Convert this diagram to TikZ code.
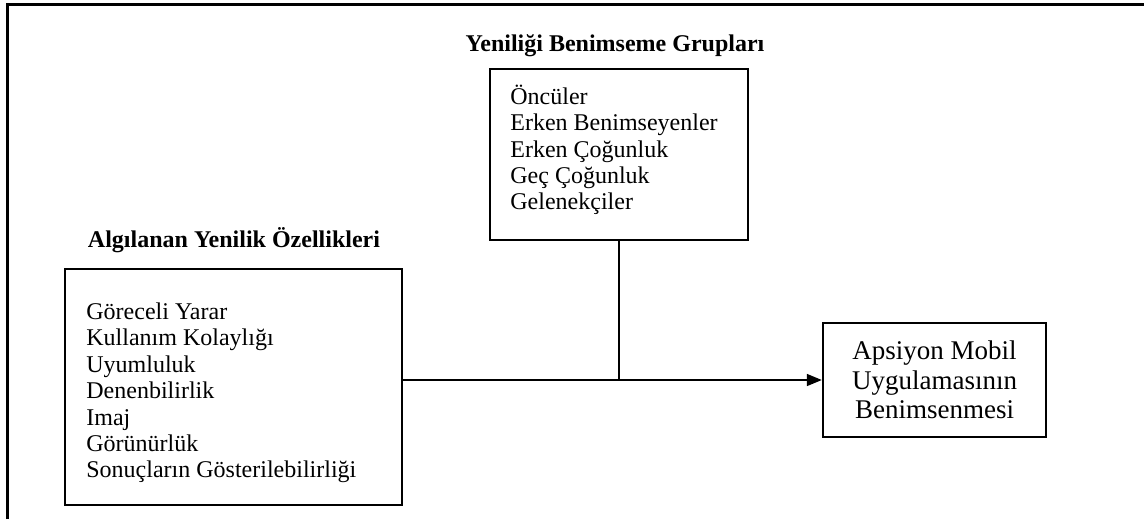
\documentclass[tikz,border=0pt]{standalone}
\usepackage{fontspec}
\setmainfont{Liberation Serif}
\usetikzlibrary{arrows.meta}
\usetikzlibrary{positioning}

\tikzset{
	kutu/.style={draw,line width=1.2pt,inner sep=0pt},
	baslik/.style={font=\bfseries\fontsize{12pt}{14pt}\selectfont},
	liste/.style={align=left,inner sep=0pt,font=\fontsize{12pt}{13.2pt}\selectfont}
}

\begin{document}
\begin{tikzpicture}[x=0.5pt,y=-0.5pt]
	\useasboundingbox (0,0) rectangle (1144,519);
	\draw[line width=1.5pt] (7,519) -- (7,5) -- (1144,5);
	
	% kutular
	\node[kutu,minimum width=168.5pt,minimum height=118pt] (algilanan) at (233.5,387) {};
	\node[kutu,minimum width=129pt,minimum height=85.5pt] (gruplar) at (619,154.5) {};
	\node[kutu,minimum width=111.5pt,minimum height=57pt,align=center,font=\fontsize{13.5pt}{14.8pt}\selectfont] (benimseme) at (934.5,380) {Apsiyon Mobil\\Uygulamasının\\Benimsenmesi};
	
	% basliklar
	\node[baslik] (algilananbaslik) at (234,240) {Algılanan Yenilik Özellikleri};
	\node[baslik] (gruplarbaslik) at (615,46) {Yeniliği Benimseme Grupları};
	
	% listeler
	\node[liste,anchor=west] (ozellikler) at (86,393) {Göreceli Yarar\\Kullanım Kolaylığı\\Uyumluluk\\Denenbilirlik\\Imaj\\Görünürlük\\Sonuçların Gösterilebilirliği};
	\node[liste,anchor=west] (benimseyenler) at (510,150) {Öncüler\\Erken Benimseyenler\\Erken Çoğunluk\\Geç Çoğunluk\\Gelenekçiler};
	
	% baglantilar
	\draw[line width=0.8pt] (gruplar.south) -- (gruplar.south |- benimseme.west);
	\draw[line width=0.8pt,-{Triangle[length=7.5pt,width=6pt]}] (algilanan.east |- benimseme.west) -- (benimseme.west);
	
\end{tikzpicture}
\end{document}
